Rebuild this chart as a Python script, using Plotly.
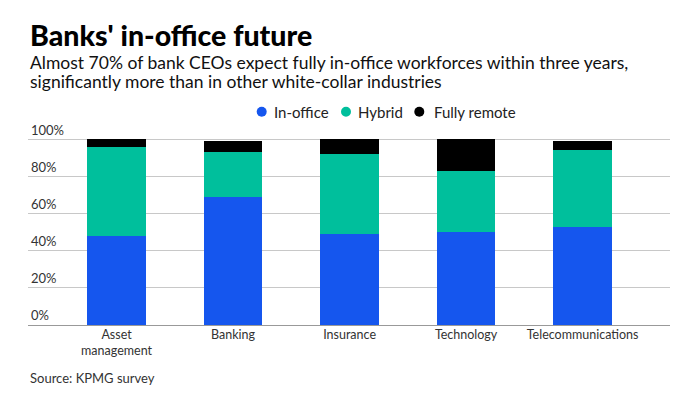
import plotly.graph_objects as go

categories = ["Asset<br>management", "Banking", "Insurance", "Technology", "Telecommunications"]
in_office = [48, 69, 49, 50, 53]
hybrid = [48, 24, 43, 33, 41]
fully_remote = [4, 6, 8, 17, 5]
series_names = ["In-office", "Hybrid", "Fully remote"]
series_colors = ["#1556EE", "#00BF9C", "#000000"]
y_ticks = [0, 20, 40, 60, 80, 100]
y_tick_labels = ["0%", "20%", "40%", "60%", "80%", "100%"]

W, H = 694, 394
Y_TOP = 112
ML, MR, MB = 28, 24, 69
px_per = 185.5 / 100
ph = Y_TOP * px_per
MT = H - MB - ph
pw = W - ML - MR

def py(pixel_y):
    return (H - MB - pixel_y) / ph

def pxx(pixel_x):
    return (pixel_x - ML) / pw

fig = go.Figure()
for name, vals, col in zip(series_names, [in_office, hybrid, fully_remote], series_colors):
    fig.add_trace(go.Bar(x=categories, y=vals, name=name, marker=dict(color=col, line=dict(width=0)),
                         width=0.5, showlegend=False))

lato = "Lato, sans-serif"
fig.update_layout(
    width=W, height=H,
    margin=dict(l=ML, r=MR, t=MT, b=MB, autoexpand=False),
    barmode="stack",
    plot_bgcolor="white", paper_bgcolor="white",
    font=dict(family=lato, size=12.5, color="#333333"),
    showlegend=False,
    xaxis=dict(range=[-0.76, 4.75], showgrid=False, showline=False, ticks="", automargin=False,
               tickfont=dict(family=lato, size=12.5, color="#333333")),
    yaxis=dict(range=[0, Y_TOP], tickvals=y_ticks, ticktext=y_tick_labels, automargin=False,
               ticklabelposition="inside top", showgrid=True, gridcolor="#c8c8c8", gridwidth=1,
               zeroline=True, zerolinecolor="#999999", zerolinewidth=1, showline=False, ticks="",
               tickfont=dict(family=lato, size=13, color="#333333")),
)

fig.add_annotation(text="Banks' in-office future", xref="paper", yref="paper",
                   x=pxx(28), y=py(35), xanchor="left", yanchor="middle", showarrow=False,
                   font=dict(family=lato, size=28.5, color="#000000", weight=900))
sub_lines = ["Almost 70% of bank CEOs expect fully in-office workforces within three years,",
             "significantly more than in other white-collar industries"]
for line, yc in zip(sub_lines, [63, 81.5]):
    fig.add_annotation(text=line, xref="paper", yref="paper", x=pxx(28), y=py(yc), xanchor="left",
                       yanchor="middle", align="left", showarrow=False,
                       font=dict(family=lato, size=17.5, color="#111111"))
fig.add_annotation(text="Source: KPMG survey", xref="paper", yref="paper",
                   x=0, y=py(378), xanchor="left", yanchor="middle", showarrow=False,
                   font=dict(family=lato, size=13, color="#333333"))

legend_dot_x = [261.7, 346, 419.3]
legend_text_x = [272, 356, 432]
legend_y = 112
for name, col, dx, tx in zip(series_names, series_colors, legend_dot_x, legend_text_x):
    fig.add_shape(type="circle", xref="paper", yref="paper", xsizemode="pixel", ysizemode="pixel",
                  xanchor=pxx(dx), yanchor=py(legend_y), x0=-5, x1=5, y0=-5, y1=5,
                  fillcolor=col, line=dict(width=0))
    fig.add_annotation(text=name, xref="paper", yref="paper", x=pxx(tx), y=py(legend_y),
                       xanchor="left", yanchor="middle", showarrow=False,
                       font=dict(family=lato, size=15, color="#222222"))

fig.write_html("out.html", config={"displayModeBar": False},
               post_script="document.body.style.margin='0';")
